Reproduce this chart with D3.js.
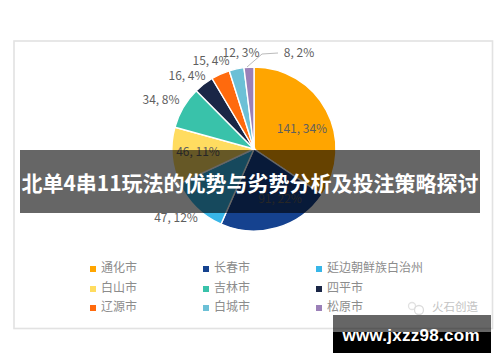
<!DOCTYPE html>
<html><head><meta charset="utf-8">
<script src="https://cdn.jsdelivr.net/npm/d3@7"></script>
<style>html,body{margin:0;padding:0;background:#fff}svg{display:block}</style>
</head><body>
<svg id="c" width="500" height="362"></svg>
<script>
const categories=["通化市","长春市","延边朝鲜族白治州","白山市","吉林市","四平市","辽源市","白城市","松原市"];
const values=[141,91,47,46,34,16,15,12,8];
const percents=[34,22,12,11,8,4,4,3,2];
const colors=["#FFA500","#15428F","#38B6E8","#FFDC60","#39C2AA","#1A2646","#FF6A0D","#6CC0D6","#9B80B8"];
const title="北单4串11玩法的优势与劣势分析及投注策略探讨";
const site="www.jxzz98.com";
const brand="火石创造";
const font='"Microsoft YaHei","Noto Sans CJK SC",sans-serif';

const svg=d3.select("#c").style("font-family",font);
svg.append("rect").attr("x",14).attr("y",41).attr("width",478.5).attr("height",287.5)
  .attr("fill","#fff").attr("stroke","#e2e2e2").attr("stroke-width",1.6);

const cx=254,cy=149,R=82;
const pie=d3.pie().sort(null).value(d=>d);
const arcs=pie(values);
const arc=d3.arc().innerRadius(0).outerRadius(R);
const g=svg.append("g").attr("transform",`translate(${cx},${cy})`);
g.selectAll("path").data(arcs).join("path")
  .attr("d",arc).attr("fill",(d,i)=>colors[i]).attr("stroke","#fff").attr("stroke-width",1.4);

const labelPos=[[302,130],[280,200],[176,219],[198,153],[161,101],[187,77],[211,62],[241,54],[299,54]];
svg.append("path").attr("d","M247 67 L262 54 L278 53").attr("fill","none").attr("stroke","#bbb").attr("stroke-width",1);
svg.selectAll("text.lab").data(values).join("text").attr("class","lab")
  .attr("x",(d,i)=>labelPos[i][0]).attr("y",(d,i)=>labelPos[i][1]).attr("text-anchor","middle")
  .attr("dominant-baseline","middle").attr("font-size",12).attr("fill","#5f5f5f")
  .text((d,i)=>`${d}, ${percents[i]}%`);

const lx=[90,203,316],ly=[269,289,308];
const leg=svg.selectAll("g.leg").data(categories).join("g").attr("class","leg")
  .attr("transform",(d,i)=>`translate(${lx[i%3]},${ly[Math.floor(i/3)]})`);
leg.append("rect").attr("x",0).attr("y",-3).attr("width",6).attr("height",6).attr("fill",(d,i)=>colors[i]);
leg.append("text").attr("x",11).attr("y",0).attr("dominant-baseline","middle").attr("font-size",12).attr("fill","#8c8c8c").text(d=>d);

svg.append("text").attr("x",432).attr("y",308).attr("dominant-baseline","middle").attr("font-size",11.5).attr("fill","#c4c4c4").text(brand);
svg.append("circle").attr("cx",412).attr("cy",306).attr("r",3.5).attr("fill","none").attr("stroke","#e2e2e2").attr("stroke-width",1.3);
svg.append("circle").attr("cx",419).attr("cy",310).attr("r",4.5).attr("fill","none").attr("stroke","#dcdcdc").attr("stroke-width",1.3);

svg.append("rect").attr("x",20).attr("y",150).attr("width",460).attr("height",63).attr("fill","#000").attr("fill-opacity",.6);
svg.append("text").attr("x",250).attr("y",185).attr("text-anchor","middle").attr("dominant-baseline","middle")
  .attr("font-size",21).attr("font-weight",700).attr("fill","#fff").text(title);

svg.append("rect").attr("x",333).attr("y",332).attr("width",158).attr("height",21).attr("fill","#000");
svg.append("rect").attr("x",333).attr("y",315).attr("width",158).attr("height",17).attr("fill","#000").attr("fill-opacity",.6);
svg.append("text").attr("x",411).attr("y",337).attr("text-anchor","middle").attr("dominant-baseline","middle")
  .attr("font-size",17).attr("font-weight",700).attr("fill","#fff").attr("font-family","'Liberation Sans',sans-serif").attr("textLength",137).text(site);
</script>
</body></html>
